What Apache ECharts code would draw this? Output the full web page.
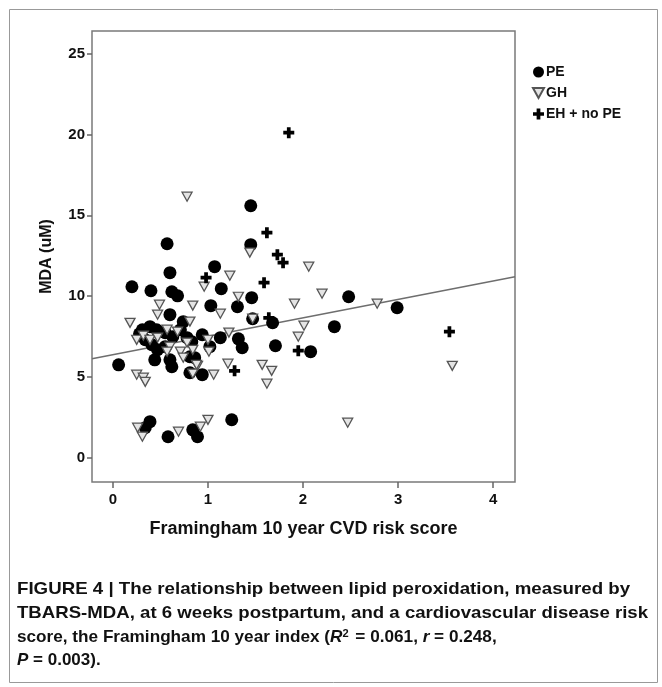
<!DOCTYPE html>
<html>
<head>
<meta charset="utf-8">
<script src="https://cdn.jsdelivr.net/npm/echarts@6/dist/echarts.min.js"></script>
<style>
  html, body { margin: 0; padding: 0; background: #fff; }
  #chart { width: 662px; height: 687px; }
</style>
</head>
<body>
<div id="chart"></div>
<script>
  // PE group (filled circles): [risk score, MDA]
  const pePoints = [
    [0.06, 5.75], [0.20, 10.58], [0.40, 10.33], [0.57, 13.24], [0.60, 11.45],
    [0.62, 10.27], [0.68, 10.02], [1.07, 11.82], [1.14, 10.46], [1.03, 9.41],
    [1.31, 9.34], [1.46, 9.90], [1.45, 15.59], [1.45, 13.18], [0.60, 8.85],
    [0.74, 8.42], [0.31, 7.92], [0.39, 8.11], [0.46, 7.92], [0.55, 7.74],
    [0.63, 7.49], [0.71, 7.92], [0.78, 7.43], [0.34, 7.30], [0.41, 6.99],
    [0.47, 6.68], [0.55, 6.87], [0.44, 6.06], [0.60, 6.06], [0.62, 5.63],
    [0.81, 6.25], [0.81, 5.26], [0.83, 7.18], [0.94, 7.61], [1.02, 6.87],
    [0.94, 5.14], [1.13, 7.43], [1.32, 7.36], [1.36, 6.81], [1.71, 6.93],
    [1.68, 8.35], [1.47, 8.60], [2.48, 9.96], [2.99, 9.28], [2.33, 8.11],
    [2.08, 6.56], [0.39, 2.23], [0.34, 1.86], [0.58, 1.30], [0.84, 1.73],
    [0.89, 1.30], [1.25, 2.35], [0.28, 7.67], [0.86, 6.19]
  ];
  // GH group (open triangles)
  const ghPoints = [
    [0.78, 16.15], [1.44, 12.69], [0.18, 8.35], [0.49, 9.47], [0.47, 8.85],
    [0.25, 7.30], [0.32, 7.55], [0.57, 7.92], [0.68, 7.80], [0.81, 8.42],
    [0.84, 9.41], [1.13, 8.91], [1.23, 11.26], [0.96, 10.58], [1.32, 9.96],
    [1.22, 7.74], [1.00, 7.30], [1.01, 6.56], [1.21, 5.82], [1.06, 5.14],
    [1.57, 5.75], [1.67, 5.38], [1.62, 4.58], [0.89, 5.69], [0.39, 7.30],
    [0.47, 7.43], [0.60, 6.87], [0.57, 6.56], [0.71, 6.56], [0.74, 6.19],
    [0.78, 7.12], [0.84, 6.68], [0.88, 5.75], [0.84, 5.20], [0.25, 5.14],
    [0.32, 4.95], [0.34, 4.70], [0.26, 1.86], [0.31, 1.30], [0.69, 1.61],
    [0.92, 1.92], [1.00, 2.35], [2.06, 11.82], [2.20, 10.15], [1.91, 9.53],
    [2.78, 9.53], [2.01, 8.17], [1.95, 7.49], [3.57, 5.69], [2.47, 2.17],
    [1.47, 8.60]
  ];
  // EH + no PE group (crosses)
  const ehPoints = [
    [1.85, 20.11], [1.62, 13.92], [1.73, 12.56], [1.79, 12.07], [1.59, 10.83],
    [0.98, 11.14], [1.64, 8.66], [1.28, 5.38], [1.95, 6.62], [3.54, 7.80]
  ];
  // fit line end points
  const fitLine = [[-0.22, 6.13], [4.23, 11.2]];

  const xTicks = [0, 1, 2, 3, 4];
  const yTicks = [0, 5, 10, 15, 20, 25];
  const seriesNames = ['PE', 'GH', 'EH + no PE'];

  const FONT = '"Liberation Sans", Arial, sans-serif';
  const triPath = 'path://M0,0L10,0L5,9Z';
  const crossPath = 'path://M3.3,0H6.7V3.3H10V6.7H6.7V10H3.3V6.7H0V3.3H3.3Z';

  const chart = echarts.init(document.getElementById('chart'));

  const captionLines = [
    '{n|FIGURE 4 | The relationship between lipid peroxidation, measured by}',
    '{n|TBARS-MDA, at 6 weeks postpartum, and a cardiovascular disease risk}',
    '{n|score, the Framingham 10 year index (}{i|R}{s|2}{n| = 0.061, }{i|r}{n| = 0.248,}',
    '{i|P}{n| = 0.003).}'
  ];
  // horizontal stretch per caption line (the original face is a condensed bold)
  const captionStretch = [1.1, 1.095, 1.01, 1.0];
  const capFont = '"Liberation Sans", Arial, sans-serif';
  const capRich = {
    n: { fontFamily: capFont, fontWeight: 'bold', fontSize: 17, fill: '#111' },
    i: { fontFamily: capFont, fontWeight: 'bold', fontStyle: 'italic', fontSize: 17, fill: '#111' },
    s: { fontFamily: capFont, fontWeight: 'bold', fontSize: 11, fill: '#111', verticalAlign: 'top', padding: [0, 2, 8, 0] }
  };

  const option = {
    animation: false,
    textStyle: { fontFamily: FONT },
    grid: {
      left: 92, top: 31, width: 423, height: 451,
      show: true, borderColor: '#7a7a7a', borderWidth: 1.5
    },
    legend: {
      data: [
        { name: 'PE', icon: 'circle' },
        { name: 'GH', icon: triPath },
        { name: 'EH + no PE', icon: crossPath }
      ],
      orient: 'vertical',
      left: 527, top: 60,
      itemWidth: 11, itemHeight: 11, itemGap: 7,
      textStyle: { fontFamily: FONT, fontWeight: 'bold', fontSize: 14, color: '#111', padding: [0, 0, 0, -3] }
    },
    xAxis: {
      type: 'value', min: -0.22, max: 4.23,
      name: 'Framingham 10 year CVD risk score',
      nameLocation: 'middle', nameGap: 38,
      nameTextStyle: { fontFamily: FONT, fontWeight: 'bold', fontSize: 18, color: '#111' },
      axisLine: { show: false, onZero: false },
      splitLine: { show: false },
      axisTick: { show: true, inside: false, length: 6, customValues: xTicks, lineStyle: { color: '#666', width: 1.5 } },
      axisLabel: { customValues: xTicks, fontWeight: 'bold', fontSize: 15, color: '#111', margin: 10 }
    },
    yAxis: {
      type: 'value', min: -1.5, max: 26.4,
      name: 'MDA (uM)',
      nameLocation: 'middle', nameGap: 37, nameRotate: 90,
      nameTextStyle: { fontFamily: FONT, fontWeight: 'bold', fontSize: 16, color: '#111' },
      axisLine: { show: false, onZero: false },
      splitLine: { show: false },
      axisTick: { show: true, inside: false, length: 5, customValues: yTicks, lineStyle: { color: '#666', width: 1.5 } },
      axisLabel: { customValues: yTicks, fontWeight: 'bold', fontSize: 15, color: '#111', margin: 7 }
    },
    series: [
      {
        type: 'line', data: fitLine, symbol: 'none', silent: true,
        lineStyle: { color: '#6e6e6e', width: 1.5 }, z: 1
      },
      {
        name: seriesNames[0], type: 'scatter', data: pePoints,
        symbol: 'circle', symbolSize: 13,
        itemStyle: { color: '#000', opacity: 1 }, z: 2
      },
      {
        name: seriesNames[1], type: 'scatter', data: ghPoints,
        symbol: triPath, symbolSize: [10, 9],
        itemStyle: { color: '#e4e4e4', borderColor: '#555', borderWidth: 1.3, opacity: 1 }, z: 3
      },
      {
        name: seriesNames[2], type: 'scatter', data: ehPoints,
        symbol: crossPath, symbolSize: 11,
        itemStyle: { color: '#000', opacity: 1 }, z: 4
      }
    ],
    graphic: [
      {
        type: 'rect', left: 7, top: 7, silent: true,
        shape: { width: 648, height: 673 },
        style: { fill: 'none', stroke: '#999', lineWidth: 1 }
      },
      {
        type: 'group', left: 17, top: 581,
        children: captionLines.map((t, k) => ({
          type: 'text', x: 0, y: k * 23.5, scaleX: captionStretch[k],
          style: { text: t, rich: capRich }
        }))
      }
    ]
  };

  chart.setOption(option);
</script>
</body>
</html>
